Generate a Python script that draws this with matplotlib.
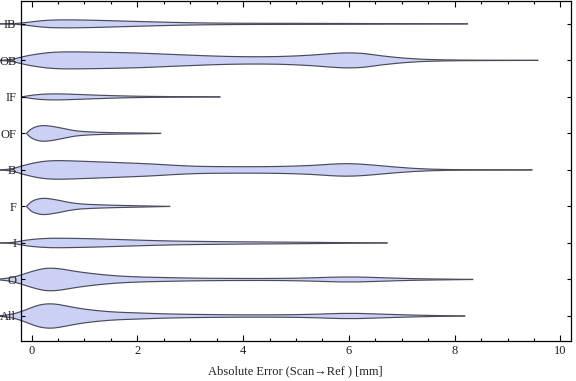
import matplotlib
matplotlib.use("Agg")
import matplotlib.pyplot as plt
from matplotlib.path import Path
from matplotlib.patches import PathPatch
import numpy as np

plt.rcParams['font.family'] = ['Liberation Serif', 'DejaVu Serif']

categories = ["All", "O", "I", "F", "B", "OF", "IF", "OB", "IB"]

# density profiles: error value (mm) and relative width
IB_x = [-0.7, -0.35, -0.2, 0.0, 0.2, 0.45, 0.8, 1.2, 1.6, 2.0, 2.5, 3.0, 3.5, 4.0, 5.0, 6.0, 7.0, 8.25]
IB_w = [0, 0.2, 0.8, 2.0, 3.3, 4.0, 4.0, 3.6, 3.0, 2.4, 1.7, 1.1, 0.8, 0.6, 0.5, 0.4, 0.2, 0]

OB_x = [-0.7, -0.4, -0.2, 0.0, 0.3, 0.6, 1.0, 1.5, 2.0, 2.5, 3.0, 3.5, 4.0, 4.7, 5.3, 5.7, 6.0, 6.3, 6.6, 7.2, 7.85, 8.5, 9.58]
OB_w = [0, 0.5, 3.3, 5.5, 7.8, 8.6, 8.4, 8.0, 7.4, 6.3, 5.2, 4.2, 3.6, 3.7, 5.2, 7.0, 7.7, 7.0, 4.5, 1.4, 0.4, 0.2, 0]

IF_x = [-0.2, -0.1, 0.05, 0.25, 0.5, 0.8, 1.3, 1.7, 2.06, 2.5, 3.0, 3.57]
IF_w = [0, 0.8, 2.0, 2.9, 3.1, 2.6, 1.6, 1.0, 0.6, 0.35, 0.2, 0]

OF_x = [-0.1, -0.06, -0.02, 0.03, 0.1, 0.2, 0.3, 0.42, 0.55, 0.67, 0.8, 0.98, 1.3, 1.7, 2.1, 2.45]
OF_w = [0, 2.0, 4.0, 5.5, 7.0, 7.9, 7.7, 6.8, 5.5, 4.2, 2.8, 1.8, 1.0, 0.6, 0.4, 0]

B_x = [-0.7, -0.4, -0.2, 0.0, 0.2, 0.4, 0.6, 1.0, 1.5, 2.0, 2.3, 2.7, 3.1, 3.5, 4.2, 4.7, 5.3, 5.65, 5.95, 6.25, 6.6, 7.2, 7.85, 8.5, 9.47]
B_w = [0, 0.5, 3.8, 6.5, 8.5, 9.3, 9.3, 8.6, 7.6, 6.6, 5.9, 4.6, 3.6, 3.3, 3.2, 3.4, 4.4, 5.8, 6.4, 5.8, 4.2, 1.4, 0.3, 0.15, 0]

F_x = [-0.1, -0.06, -0.02, 0.03, 0.1, 0.2, 0.3, 0.42, 0.55, 0.67, 0.8, 1.0, 1.3, 1.7, 2.1, 2.62]
F_w = [0, 2.0, 4.2, 5.8, 7.2, 8.2, 8.0, 7.0, 5.8, 4.4, 3.2, 2.2, 1.6, 1.0, 0.6, 0]

I_x = [-0.7, -0.35, -0.2, 0.0, 0.35, 0.8, 1.3, 1.9, 2.56, 3.2, 4.0, 4.9, 5.8, 6.73]
I_w = [0, 0.3, 2.0, 3.6, 4.9, 4.6, 4.0, 3.0, 2.0, 1.5, 1.1, 0.8, 0.4, 0]

O_x = [-0.7, -0.4, -0.2, 0.0, 0.2, 0.35, 0.55, 0.8, 1.05, 1.3, 1.6, 1.93, 2.25, 2.8, 3.3, 4.0, 4.7, 5.3, 6.0, 6.6, 7.2, 7.8, 8.35]
O_w = [0, 1.5, 4.5, 8.0, 10.7, 11.5, 10.7, 8.3, 6.5, 5.0, 3.6, 2.7, 2.2, 1.6, 1.2, 1.0, 1.0, 1.6, 2.8, 1.8, 0.8, 0.4, 0]

All_x = [-0.7, -0.4, -0.2, 0.0, 0.15, 0.32, 0.5, 0.75, 1.0, 1.3, 1.6, 1.93, 2.56, 3.2, 4.0, 4.9, 5.4, 6.0, 6.6, 7.2, 7.7, 8.2]
All_w = [0, 1.2, 4.3, 8.5, 11.2, 12.4, 11.7, 9.0, 6.8, 5.0, 3.8, 3.2, 2.0, 1.5, 1.1, 1.2, 1.8, 2.9, 1.9, 0.9, 0.4, 0]

profiles = {
    "All": (All_x, All_w), "O": (O_x, O_w), "I": (I_x, I_w), "F": (F_x, F_w),
    "B": (B_x, B_w), "OF": (OF_x, OF_w), "IF": (IF_x, IF_w), "OB": (OB_x, OB_w),
    "IB": (IB_x, IB_w),
}

xticks = [0, 2, 4, 6, 8, 10]
xlabel = "Absolute Error (Scan\u2192Ref ) [mm]"


def smooth_path(pts):
    """Quadratic-Bezier smoothed open path through a polyline (drawing style)."""
    pts = np.asarray(pts, float)
    verts = [pts[0]]
    codes = [Path.MOVETO]
    mids = (pts[:-1] + pts[1:]) / 2
    verts.append(mids[0]); codes.append(Path.LINETO)
    for i in range(1, len(pts) - 1):
        verts.extend([pts[i], mids[i]])
        codes.extend([Path.CURVE3, Path.CURVE3])
    verts.append(pts[-1]); codes.append(Path.LINETO)
    return verts, codes


fig = plt.figure(figsize=(5.76, 3.81), dpi=100)
ax = fig.add_axes([20.5 / 576, (381 - 341) / 381, (571 - 20.5) / 576, (341 - 0.5) / 381])

scale = 1 / 36.5  # width units -> category spacing
for i, cat in enumerate(categories):
    pos = i + 1
    xs, ws = profiles[cat]
    xs = np.asarray(xs, float)
    ws = np.asarray(ws, float) * scale
    upper = np.column_stack([xs, pos + ws])
    lower = np.column_stack([xs[::-1], pos - ws[::-1]])
    vu, cu = smooth_path(upper)
    vl, cl = smooth_path(lower)
    codes = cu + cl[1:] + [Path.CLOSEPOLY]
    verts = vu + vl[1:] + [vu[0]]
    ax.add_patch(PathPatch(Path(verts, codes), facecolor='#cbd1f5', edgecolor='none',
                           clip_on=False, zorder=0.8))
    for v, c in ((vu, cu), (vl, cl)):
        ax.add_patch(PathPatch(Path(v, c), facecolor='none', edgecolor='#4a4a5a',
                               lw=0.85, clip_on=False, zorder=0.9))

ax.set_xlim(-0.21, 10.2)
ax.set_ylim(0.315, 9.64)
ax.set_xticks(xticks)
ax.set_xticks(np.arange(0, 10.01, 0.5), minor=True)
ax.set_yticks(range(1, len(categories) + 1))
ax.set_yticklabels(categories)
ax.tick_params(axis='both', which='both', direction='in', top=True, right=True,
               labelsize=9, labelcolor='#222222', width=0.8)
ax.tick_params(axis='x', which='major', length=4.5, pad=3)
ax.tick_params(axis='x', which='minor', length=2.5)
ax.tick_params(axis='y', which='major', length=3, pad=3)
ax.set_xlabel(xlabel, fontsize=9, color='#222222', labelpad=6)
for s in ax.spines.values():
    s.set_linewidth(0.9)

fig.savefig("out.png", dpi=100)
